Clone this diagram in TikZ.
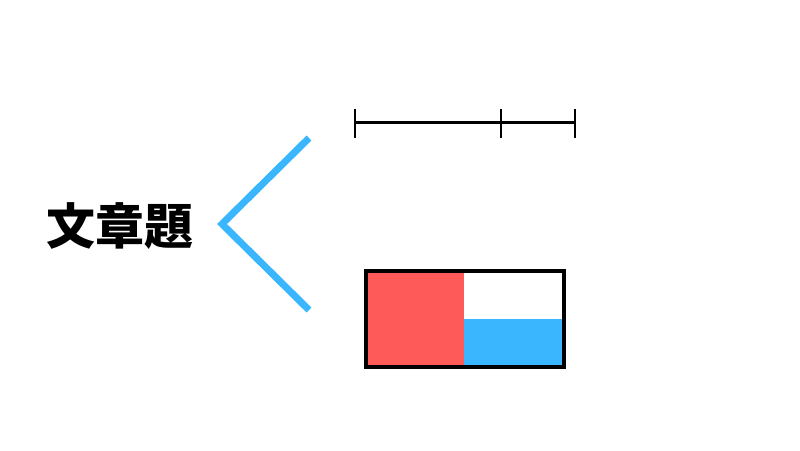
\documentclass[tikz,border=0pt]{standalone}
\usepackage{fontspec}
\newfontfamily\cjk{Noto Sans CJK JP}
\definecolor{myred}{HTML}{FF5A5A}
\definecolor{myblue}{HTML}{3AB6FF}
\begin{document}
\begin{tikzpicture}[x=1pt,y=-1pt,
  chev/.style={myblue,line width=7pt,miter limit=10},
  seg/.style={black,line width=3pt},
  tick/.style={black,line width=2.2pt},
  lbl/.style={font=\cjk\bfseries\fontsize{49}{49}\selectfont,inner sep=0pt,anchor=center}]
\useasboundingbox[fill=white] (0,0) rectangle (800,450);
\node[lbl] (t) at (120,226) {文章題};
\coordinate (c1) at (309,138);
\coordinate (cv) at (222,224);
\coordinate (c2) at (309,310);
\draw[chev] (c1) -- (cv) -- (c2);
\coordinate (a) at (355,122.5);
\coordinate (m) at (501,122.5);
\coordinate (b) at (575,122.5);
\draw[seg] (a) -- (b);
\foreach \p in {a,m,b} \draw[tick] ([yshift=-15pt]\p) -- ([yshift=14pt]\p);
\fill[myred] (366,271) rectangle (464,367);
\fill[myblue] (464,319) rectangle (564,367);
\draw[black,line width=4pt] (366,271) rectangle (564,367);
\end{tikzpicture}
\end{document}
